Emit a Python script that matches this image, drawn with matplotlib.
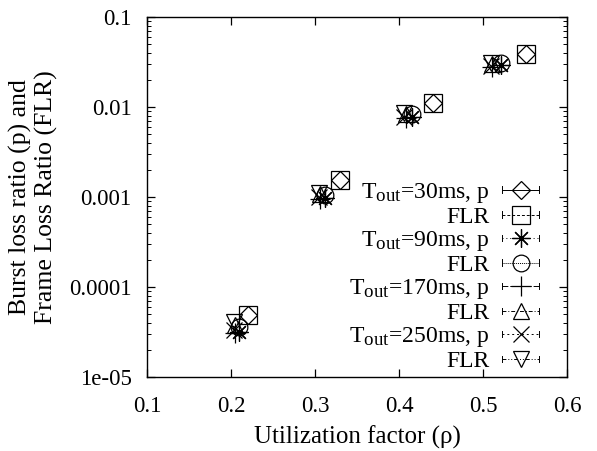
import matplotlib
matplotlib.use("Agg")
import matplotlib.pyplot as plt
import matplotlib._mathtext as _mt
from matplotlib.lines import Line2D
from matplotlib.legend_handler import HandlerLine2D
from matplotlib.ticker import FixedLocator, FixedFormatter, LogLocator, NullFormatter

_mt.SHRINK_FACTOR = 0.8

plt.rcParams['font.family'] = ['Liberation Serif', 'DejaVu Serif']
plt.rcParams['mathtext.fontset'] = 'custom'
plt.rcParams['mathtext.rm'] = 'Liberation Serif'
plt.rcParams['mathtext.it'] = 'Liberation Serif:italic'

# ---- data ----
x_30 = [0.22, 0.33, 0.44, 0.551]
p_30 = [4.9e-5, 1.55e-3, 1.1e-2, 3.9e-2]
flr_30 = [4.9e-5, 1.55e-3, 1.1e-2, 3.9e-2]

x_90 = [0.21, 0.312, 0.416, 0.522]
p_90 = [3.2e-5, 0.97e-3, 7.8e-3, 2.9e-2]
flr_90 = [3.6e-5, 1.05e-3, 8.4e-3, 3.1e-2]

x_170 = [0.205, 0.306, 0.408, 0.511]
p_170 = [3.1e-5, 0.95e-3, 7.5e-3, 2.8e-2]
flr_170 = [3.8e-5, 1.08e-3, 8.4e-3, 3.0e-2]

x_250 = [0.204, 0.305, 0.406, 0.509]
p_250 = [3.3e-5, 1.0e-3, 7.7e-3, 2.85e-2]
flr_250 = [4.1e-5, 1.12e-3, 8.6e-3, 3.1e-2]

labels = [r'T$_{\mathrm{out}}$=30ms, p', 'FLR',
          r'T$_{\mathrm{out}}$=90ms, p', 'FLR',
          r'T$_{\mathrm{out}}$=170ms, p', 'FLR',
          r'T$_{\mathrm{out}}$=250ms, p', 'FLR']

xticks = [0.1, 0.2, 0.3, 0.4, 0.5, 0.6]
yticks = [1e-5, 1e-4, 1e-3, 1e-2, 1e-1]
ytick_labels = ['1e-05', '0.0001', '0.001', '0.01', '0.1']

# ---- styling ----
series = [
    (x_30, p_30, dict(marker='D', ms=9.0), '-'),
    (x_30, flr_30, dict(marker='s', ms=13.0), (0, (3, 2))),
    (x_90, p_90, dict(marker=(8, 2, 0), ms=13.0), (0, (1, 3))),
    (x_90, flr_90, dict(marker='o', ms=12.0), (0, (1, 1))),
    (x_170, p_170, dict(marker='+', ms=14.0), (0, (6, 2))),
    (x_170, flr_170, dict(marker='^', ms=11.0), (0, (4, 2, 1, 2))),
    (x_250, p_250, dict(marker='x', ms=11.0), (0, (2, 3))),
    (x_250, flr_250, dict(marker='v', ms=11.0), (0, (4, 2, 1, 2, 1, 2))),
]

fig = plt.figure(figsize=(5.97, 4.51), dpi=100)
ax = fig.add_axes([147/597, 1 - 377/451, (567-147)/597, (377-17)/451])

handles = []
for xs, ys, mk, ls in series:
    ax.plot(xs, ys, linestyle='none', color='black', mfc='none', mew=0.9, **mk)
    handles.append(Line2D([], [], color='black', linestyle=ls, lw=0.7,
                          mfc='none', mew=0.9, **mk))

ax.set_yscale('log')
ax.set_xlim(0.1, 0.6)
ax.set_ylim(1e-5, 0.1)
ax.xaxis.set_major_locator(FixedLocator(xticks))
ax.set_xticklabels([f'{v:.1f}' for v in xticks])
ax.yaxis.set_major_locator(FixedLocator(yticks))
ax.yaxis.set_major_formatter(FixedFormatter(ytick_labels))
ax.yaxis.set_minor_locator(LogLocator(base=10, subs=range(2, 10)))
ax.yaxis.set_minor_formatter(NullFormatter())
ax.tick_params(which='both', direction='in', top=True, right=True, labelsize=16.5, color='black')
ax.tick_params(which='major', length=6, width=0.9)
ax.tick_params(axis='x', which='major', pad=14)
ax.tick_params(axis='y', which='major', pad=11)
ax.tick_params(which='minor', length=3, width=0.7)
for s in ax.spines.values():
    s.set_linewidth(1.0)

ax.set_xlabel('Utilization factor (ρ)', fontsize=18, labelpad=6)
ax.set_ylabel('Burst loss ratio (p) and\nFrame Loss Ratio (FLR)', fontsize=18.5,
              labelpad=8, linespacing=1.15)


class CapHandler(HandlerLine2D):
    def create_artists(self, legend, orig_handle, xdescent, ydescent,
                       width, height, fontsize, trans):
        arts = super().create_artists(legend, orig_handle, xdescent, ydescent,
                                      width, height, fontsize, trans)
        y = height / 2 - ydescent
        c = height * 0.2
        for x in (-xdescent, width - xdescent):
            l = Line2D([x, x], [y - c, y + c], color='black', lw=0.7)
            l.set_transform(trans)
            arts.append(l)
        return arts


leg = ax.legend(handles, labels, loc='upper right',
                bbox_to_anchor=(539/597, 1 - 181/451), bbox_transform=fig.transFigure,
                frameon=False, markerfirst=False, fontsize=17,
                handlelength=1.55, handletextpad=0.55, labelspacing=0.055,
                borderpad=0, borderaxespad=0,
                handler_map={Line2D: CapHandler()})

fig.savefig('out.png', dpi=100)
